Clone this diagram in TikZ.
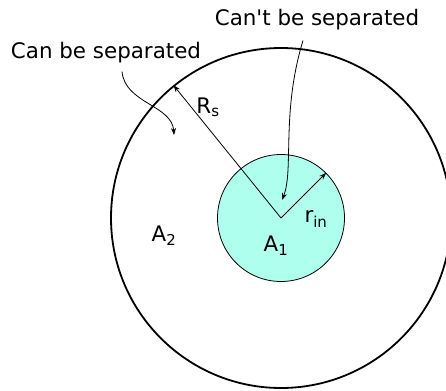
\documentclass[tikz,border=0pt]{standalone}
\usepackage{fontspec}
\newfontfamily\lblfont{DejaVu Sans}
\usetikzlibrary{arrows.meta, positioning, calc}

\begin{document}
\begin{tikzpicture}[x=1pt, y=-1pt, >={Stealth[length=7pt, width=5pt]},
  lbl/.style={font=\lblfont\fontsize{21.4}{25}\selectfont, inner sep=0pt},
  radius line/.style={->, line width=0.8pt},
  note arrow/.style={->, line width=0.8pt}]
\useasboundingbox (0,0) rectangle (446,390);
\clip (0,0) rectangle (446,390);
% regions
\coordinate (O) at (281,218);
\node[circle, draw, line width=1.8pt, minimum size=340pt, inner sep=0pt] (outer) at (O) {};
\node[circle, draw, fill={rgb,255:red,175;green,255;blue,238}, line width=0.8pt,
  minimum size=127pt, inner sep=0pt] (inner) at (O) {};
% radii
\draw[radius line] (O) -- (outer.129.7);
\draw[radius line] (O) -- (inner.45);
\node[lbl] (Rs) at (208,107) {R\textsubscript{s}};
\node[lbl] (rin) at (316,219) {r\textsubscript{in}};
\node[lbl] (A1) at (276,246) {A\textsubscript{1}};
\node[lbl] (A2) at (164,236) {A\textsubscript{2}};
% notes
\node[lbl] (can) at (106,53) {Can be separated};
\node[lbl] (cant) at (317,20) {Can't be separated};
\coordinate (canend) at (174,135);
\coordinate (cantend) at (282,200);
\draw[note arrow] ($(can.south)+(16,8)$) .. controls +(3,32) and +(-2,-30) .. (canend);
\draw[note arrow] ($(cant.south)+(-14,10)$) .. controls +(-22,72) and +(12,-30) .. (cantend);
\end{tikzpicture}
\end{document}
